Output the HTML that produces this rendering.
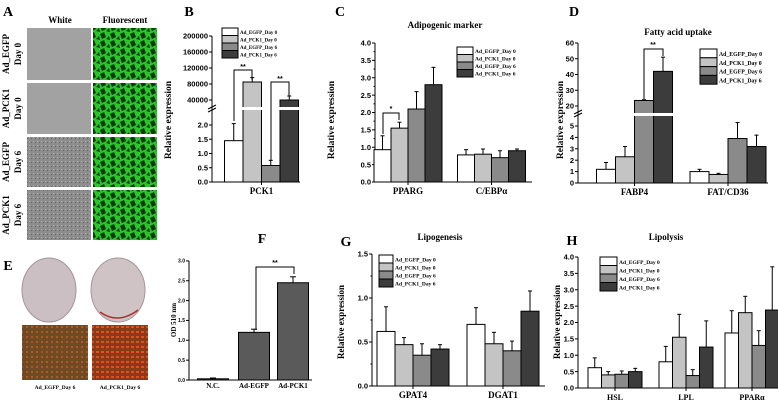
<!DOCTYPE html>
<html><head><meta charset="utf-8"><style>
html,body{margin:0;padding:0;background:#fff;width:778px;height:402px;overflow:hidden}
svg{display:block}
.t{font-family:"Liberation Sans",sans-serif;font-weight:bold}
.s{font-family:"Liberation Serif",serif;font-weight:bold}
</style></head><body>
<svg id="fig" width="778" height="402" viewBox="0 0 778 402" xmlns="http://www.w3.org/2000/svg">
<defs>
<pattern id="fluo" width="10" height="8" patternUnits="userSpaceOnUse">
<rect width="10" height="8" fill="#2cc42c"/><path d="M0 2 L4 0 L6 5 L2 7Z M6 7 L9 4 L10 8Z" fill="#0b3a0b"/>
</pattern>
<pattern id="grain" width="4" height="4" patternUnits="userSpaceOnUse">
<rect width="4" height="4" fill="#8d8d8d"/><rect x="1" y="1" width="1" height="1" fill="#b0b0b0"/><rect x="3" y="2" width="1" height="1" fill="#666"/>
</pattern>
<pattern id="oro1" width="5" height="5" patternUnits="userSpaceOnUse">
<rect width="5" height="5" fill="#6e4a25"/><rect x="1" y="1" width="2" height="2" fill="#b05a20"/>
</pattern>
<pattern id="oro2" width="5" height="5" patternUnits="userSpaceOnUse">
<rect width="5" height="5" fill="#8a3a18"/><rect x="1" y="1" width="3" height="2" fill="#e0501e"/>
</pattern>
</defs>
</svg>
<script>
// ---------- data ----------
const legendLabels = ['Ad_EGFP_Day 0','Ad_PCK1_Day 0','Ad_EGFP_Day 6','Ad_PCK1_Day 6'];
// B
const bCats = ['PCK1'];
const bEGFP0 = [1.45], bPCK10 = [85000], bEGFP6 = [0.58], bPCK16 = [40000];
const bErrEGFP0 = [0.6], bErrPCK10 = [11000], bErrEGFP6 = [0.18], bErrPCK16 = [10000];
const bTicks = [0,0.5,1,1.5,2,40000,80000,120000,160000,200000];
const bTickLabels = ['0.0','0.5','1.0','1.5','2.0','40000','80000','120000','160000','200000'];
// C
const cCats = ['PPARG','C/EBPα'];
const cEGFP0 = [0.93,0.78], cPCK10 = [1.55,0.8], cEGFP6 = [2.1,0.7], cPCK16 = [2.8,0.9];
const cErrEGFP0 = [0.4,0.15], cErrPCK10 = [0.17,0.15], cErrEGFP6 = [0.5,0.2], cErrPCK16 = [0.5,0.05];
const cTicks = [0,0.5,1,1.5,2,2.5,3,3.5,4];
const cTickLabels = ['0.0','0.5','1.0','1.5','2.0','2.5','3.0','3.5','4.0'];
// D
const dCats = ['FABP4','FAT/CD36'];
const dEGFP0 = [1.2,1.0], dPCK10 = [2.3,0.75], dEGFP6 = [23.5,3.9], dPCK16 = [42,3.2];
const dErrEGFP0 = [0.6,0.2], dErrPCK10 = [0.9,0.1], dErrEGFP6 = [0.5,1.4], dErrPCK16 = [9,1.0];
const dTicks = [0,1,2,3,4,5,20,30,40,50,60];
const dTickLabels = ['0','1','2','3','4','5','20','30','40','50','60'];
// F
const fCats = ['N.C.','Ad-EGFP','Ad-PCK1'];
const fVals = [0.03,1.2,2.45];
const fErrs = [0.02,0.08,0.15];
const fTicks = [0,0.5,1,1.5,2,2.5,3];
const fTickLabels = ['0.0','0.5','1.0','1.5','2.0','2.5','3.0'];
// G
const gCats = ['GPAT4','DGAT1'];
const gEGFP0 = [0.62,0.7], gPCK10 = [0.47,0.48], gEGFP6 = [0.35,0.4], gPCK16 = [0.42,0.85];
const gErrEGFP0 = [0.28,0.19], gErrPCK10 = [0.08,0.13], gErrEGFP6 = [0.13,0.11], gErrPCK16 = [0.05,0.23];
const gTicks = [0,0.5,1,1.5];
const gTickLabels = ['0.0','0.5','1.0','1.5'];
// H
const hCats = ['HSL','LPL','PPARα'];
const hEGFP0 = [0.62,0.8,1.68], hPCK10 = [0.4,1.55,2.3], hEGFP6 = [0.42,0.38,1.3], hPCK16 = [0.5,1.25,2.38];
const hErrEGFP0 = [0.3,0.47,0.68], hErrPCK10 = [0.1,0.7,0.5], hErrEGFP6 = [0.1,0.18,0.45], hErrPCK16 = [0.1,0.8,1.32];
const hTicks = [0,0.5,1,1.5,2,2.5,3,3.5,4];
const hTickLabels = ['0.0','0.5','1.0','1.5','2.0','2.5','3.0','3.5','4.0'];

// ---------- helpers ----------
const NS = 'http://www.w3.org/2000/svg';
const svg = document.getElementById('fig');
const fills = ['#ffffff','#c4c4c4','#8a8a8a','#3c3c3c'];
function mk(tag, attrs, name, parent){
  const e = document.createElementNS(NS, tag);
  for (const k in attrs) e.setAttribute(k, attrs[k]);
  
  
  (parent || svg).appendChild(e);
  return e;
}
function txt(x, y, s, cls, size, name, anchor, rot){
  const e = mk('text', {x:x, y:y, class:cls, 'font-size':size, 'text-anchor':anchor||'middle'}, name);
  if (rot) e.setAttribute('transform', 'rotate(-90 '+x+' '+y+')');
  e.textContent = s;
  return e;
}
function line(x1,y1,x2,y2,name,w){ return mk('line',{x1:x1,y1:y1,x2:x2,y2:y2,stroke:'#000','stroke-width':w||1},name); }

function axes(p){
  const g = mk('g', {}, p.id+'-axes');
  const top = p.y(p.ticks[p.ticks.length-1]);
  line(p.ax, p.base, p.ax, top, p.id+'-y-axis-line');
  line(p.ax, p.base, p.axEnd, p.base, p.id+'-x-axis-line');
  p.ticks.forEach((v,i)=>{
    const y = p.y(v);
    line(p.ax-3, y, p.ax, y, p.id+'-y-tick');
    txt(p.ax-4, y+p.fs*0.35, p.tickLabels[i], 't', p.fs, p.id+'-y-tick-label', 'end');
  });
  if (p.minor) p.minor.forEach(v=>{ line(p.ax-1.5, p.y(v), p.ax, p.y(v), p.id+'-y-minor-tick'); });
}
function groupedBars(p){
  const g = mk('g', {}, p.id+'-bars');
  p.cats.forEach((c,ci)=>{
    const cx = p.centers[ci];
    p.vals.forEach((arr,si)=>{
      const x = cx - 2*p.bw + si*p.bw;
      const y = p.y(arr[ci]);
      mk('rect',{x:x, y:y, width:p.bw, height:p.base-y, fill:fills[si], stroke:'#000','stroke-width':1}, p.id+'-bar-'+c.toLowerCase().replace(/[^a-z0-9]/g,'')+'-s'+si, g);
      const ey = p.y(arr[ci] + p.errs[si][ci]);
      line(x+p.bw/2, y, x+p.bw/2, ey, p.id+'-error-bar');
      line(x+p.bw/2-2, ey, x+p.bw/2+2, ey, p.id+'-error-cap');
    });
    line(cx, p.base, cx, p.base+3, p.id+'-x-tick');
    txt(cx, p.base+12, c, 's', p.cfs||9, p.id+'-category-label');
  });
}
function legend(id, x, y0, dy, bw, fs){
  const g = mk('g', {}, id+'-legend');
  legendLabels.forEach((l,i)=>{
    const y = y0 + i*dy;
    mk('rect',{x:x, y:y, width:bw, height:dy, fill:fills[i], stroke:'#000','stroke-width':1}, id+'-legend-swatch', g);
    txt(x+bw+2, y+dy*0.8, l, 's', fs, id+'-legend-entry', 'start');
  });
}

// ---------- Panel A ----------
txt(8,16,'A','s',14,'panel-a-label');
txt(60,23,'White','s',9,'panel-a-white-header');
txt(125,23,'Fluorescent','s',9,'panel-a-fluorescent-header');
const rowsA = [[28,80,'Ad_EGFP','Day 0'],[83,134,'Ad_PCK1','Day 0'],[137,187,'Ad_EGFP','Day 6'],[190,240,'Ad_PCK1','Day 6']];
rowsA.forEach((r,i)=>{
  mk('rect',{x:27,y:r[0],width:64,height:r[1]-r[0],fill:i<2?'#a2a2a2':'url(#grain)'},'bright-field-image');
  mk('rect',{x:93,y:r[0],width:64,height:r[1]-r[0],fill:'url(#fluo)'},'fluorescent-image');
  const cy=(r[0]+r[1])/2;
  txt(9,cy,r[2],'s',9,'row-label',null,true);
  txt(21,cy,r[3],'s',9,'row-label',null,true);
});

// ---------- Panel B ----------
txt(189,16,'B','s',14,'panel-b-label');
const pB = {id:'b', ax:212, axEnd:300, base:182, fs:7.5,
  y: v => v<=3 ? 182 - v*28.5 : 100 - (v-40000)/40000*16,
  ticks:bTicks, tickLabels:bTickLabels, cats:bCats, centers:[261.5], bw:18.5,
  vals:[bEGFP0,bPCK10,bEGFP6,bPCK16], errs:[bErrEGFP0,bErrPCK10,bErrEGFP6,bErrPCK16]};
axes(pB); groupedBars(pB);
mk('rect',{x:213,y:107,width:90,height:3,fill:'#fff'},'b-axis-break-gap');
line(208,112,216,108,'b-axis-break-mark'); line(208,109,216,105,'b-axis-break-mark');
txt(171,120,'Relative expression','s',9.5,'b-y-axis-title',null,true);
legend('b',222,28,7.5,16,5);
mk('path',{d:'M234 121 V70 H252 V80',fill:'none',stroke:'#000'},'b-significance-bracket');
txt(243,69,'**','t',7,'b-significance-label');
mk('path',{d:'M271 160 V82 H289 V96',fill:'none',stroke:'#000'},'b-significance-bracket');
txt(280,81,'**','t',7,'b-significance-label');

// ---------- Panel C ----------
txt(340,16,'C','s',14,'panel-c-label');
txt(445,28,'Adipogenic marker','s',9,'c-chart-title');
const pC = {id:'c', ax:375, axEnd:532, base:182, fs:7.5, y: v => 182 - v*34.75,
  ticks:cTicks, tickLabels:cTickLabels, minor:[0.25,0.75,1.25,1.75,2.25,2.75,3.25,3.75],
  cats:cCats, centers:[408,491.5], bw:17,
  vals:[cEGFP0,cPCK10,cEGFP6,cPCK16], errs:[cErrEGFP0,cErrPCK10,cErrEGFP6,cErrPCK16]};
axes(pC); groupedBars(pC);
txt(334,120,'Relative expression','s',9.5,'c-y-axis-title',null,true);
legend('c',457,47,7.5,16,5.5);
mk('path',{d:'M383 134 V113 H399 V120',fill:'none',stroke:'#000'},'c-significance-bracket');
txt(391,111,'*','t',7,'c-significance-label');

// ---------- Panel D ----------
txt(574,16,'D','s',14,'panel-d-label');
txt(678,35,'Fatty acid uptake','s',9,'d-chart-title');
const pD = {id:'d', ax:578, axEnd:768, base:183, fs:7.5,
  y: v => v<=6 ? 183 - v*11.4 : 106 - (v-20)*1.575,
  ticks:dTicks, tickLabels:dTickLabels, cats:dCats, centers:[634.5,728], bw:19,
  vals:[dEGFP0,dPCK10,dEGFP6,dPCK16], errs:[dErrEGFP0,dErrPCK10,dErrEGFP6,dErrPCK16]};
axes(pD); groupedBars(pD);
mk('rect',{x:579,y:113,width:95,height:3,fill:'#fff'},'d-axis-break-gap');
line(574,117,582,113,'d-axis-break-mark'); line(574,114,582,110,'d-axis-break-mark');
txt(563,120,'Relative expression','s',9.5,'d-y-axis-title',null,true);
legend('d',700,49,8.8,17,5.8);
mk('path',{d:'M644 99 V49 H663 V56',fill:'none',stroke:'#000'},'d-significance-bracket');
txt(653,47,'**','t',7,'d-significance-label');

// ---------- Panel E ----------
txt(8,270,'E','s',14,'panel-e-label');
mk('ellipse',{cx:49,cy:290,rx:27,ry:32,fill:'#cbbfc3',stroke:'#a5969a'},'dish-ad-egfp');
mk('ellipse',{cx:118,cy:290,rx:27,ry:32,fill:'#cfc3c6',stroke:'#a5969a'},'dish-ad-pck1');
mk('path',{d:'M100 312 Q118 325 138 310',fill:'none',stroke:'#b03030','stroke-width':1.5},'dish-stain');
mk('rect',{x:22,y:325,width:66,height:55,fill:'url(#oro1)'},'oil-red-image-egfp');
mk('rect',{x:92,y:325,width:56,height:55,fill:'url(#oro2)'},'oil-red-image-pck1');
txt(55,389,'Ad_EGFP_Day 6','s',5.5,'e-image-label');
txt(120,389,'Ad_PCK1_Day 6','s',5.5,'e-image-label');

// ---------- Panel F ----------
txt(262,243,'F','s',14,'panel-f-label');
const fy = v => 380 - v*39.7;
const pF = {id:'f', ax:189, axEnd:312, base:380, fs:5, y:fy, ticks:fTicks, tickLabels:fTickLabels};
axes(pF);
const fCenters = [213,254,293];
fCats.forEach((c,i)=>{
  const y = fy(fVals[i]);
  mk('rect',{x:fCenters[i]-15.5,y:y,width:31,height:380-y,fill:'#5a5a5a',stroke:'#000'},'f-bar-'+c.toLowerCase().replace(/[^a-z0-9]/g,''));
  const ey = fy(fVals[i]+fErrs[i]);
  line(fCenters[i],y,fCenters[i],ey,'f-error-bar');
  line(fCenters[i]-3,ey,fCenters[i]+3,ey,'f-error-cap');
  txt(fCenters[i],388,c,'s',7,'f-category-label');
});
txt(176,320,'OD 510 nm','s',7,'f-y-axis-title',null,true);
mk('path',{d:'M256 330 V267 H294 V274',fill:'none',stroke:'#000'},'f-significance-bracket');
txt(275,265,'**','t',7,'f-significance-label');

// ---------- Panel G ----------
txt(346,246,'G','s',14,'panel-g-label');
txt(440,240,'Lipogenesis','s',9,'g-chart-title');
const pG = {id:'g', ax:372, axEnd:545, base:386, fs:7.5, y: v => 386 - v*88,
  ticks:gTicks, tickLabels:gTickLabels, minor:[0.25,0.75,1.25],
  cats:gCats, centers:[413,503], bw:18,
  vals:[gEGFP0,gPCK10,gEGFP6,gPCK16], errs:[gErrEGFP0,gErrPCK10,gErrEGFP6,gErrPCK16]};
axes(pG); groupedBars(pG);
txt(344,322,'Relative expression','s',9,'g-y-axis-title',null,true);
legend('g',379,255,8,14,5.5);

// ---------- Panel H ----------
txt(572,245,'H','s',14,'panel-h-label');
txt(666,240,'Lipolysis','s',9,'h-chart-title');
const pH = {id:'h', ax:578, axEnd:778, base:388, fs:7.5, y: v => 388 - v*32.75,
  ticks:hTicks, tickLabels:hTickLabels, cats:hCats, centers:[615,686,752], bw:13.5, cfs:8,
  vals:[hEGFP0,hPCK10,hEGFP6,hPCK16], errs:[hErrEGFP0,hErrPCK10,hErrEGFP6,hErrPCK16]};
axes(pH); groupedBars(pH);
txt(560,322,'Relative expression','s',9,'h-y-axis-title',null,true);
legend('h',600,257,8.5,17,5.5);
</script>
</body></html>
